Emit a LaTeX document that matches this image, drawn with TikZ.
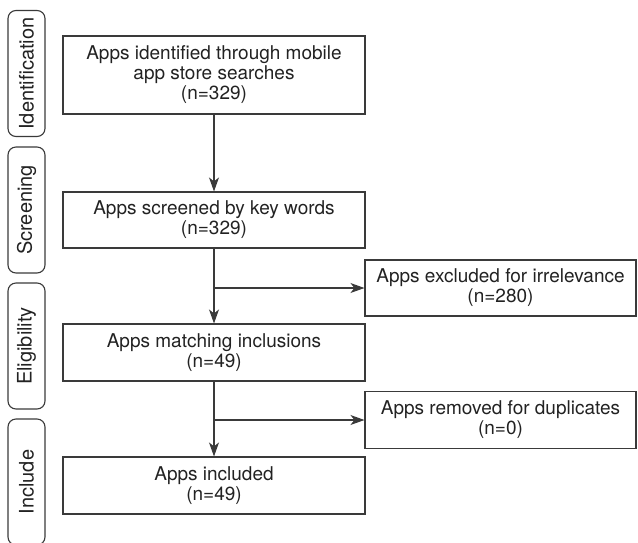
\documentclass[tikz,border=0pt]{standalone}
\usepackage{fontspec}
\setmainfont{TeX Gyre Heros}
\usepackage{tikz}
\usetikzlibrary{arrows.meta,calc}

\definecolor{linegray}{HTML}{3A3A3A}
\definecolor{textgray}{HTML}{222222}

\tikzset{
  flowbox/.style={draw=linegray, line width=1.1pt, rectangle, align=center,
    text=textgray, font=\fontsize{19}{20}\selectfont, inner sep=2pt},
  mainbox/.style={flowbox, minimum width=302pt},
  sidebox/.style={flowbox, minimum width=271pt},
  phase/.style={draw=linegray, line width=1.1pt, rounded corners=8pt, rotate=90,
    minimum width=126pt, minimum height=37pt, text=textgray,
    font=\fontsize{20}{22}\selectfont, inner sep=0pt},
  flow/.style={draw=linegray, line width=1.1pt, -{Stealth[length=14pt,width=10pt,inset=4pt]}}
}

\begin{document}
\begin{tikzpicture}[x=1pt,y=-1pt]
\useasboundingbox (0,0) rectangle (638,542);

% phases on the left
\node[phase] (ident) at (26.5,73.5) {Identification};
\node[phase] (screen) at (26.5,210) {Screening};
\node[phase] (elig) at (26.5,346) {Eligibility};
\node[phase] (incl) at (26.5,482) {Include};

% main column
\node[mainbox, minimum height=78pt] (found) at (214,75) {Apps identified through mobile\\app store searches\\(n=329)};
\node[mainbox, minimum height=56pt] (keyw) at (214,220) {Apps screened by key words\\(n=329)};
\node[mainbox, minimum height=57pt] (match) at (214,352.5) {Apps matching inclusions\\(n=49)};
\node[mainbox, minimum height=57pt] (final) at (214,485.5) {Apps included\\(n=49)};

% removed on the right
\node[sidebox, minimum height=56pt] (irrel) at (500.5,288) {Apps excluded for irrelevance\\(n=280)};
\node[sidebox, minimum height=57pt] (dupl) at (500.5,420) {Apps removed for duplicates\\(n=0)};

% arrows
\draw[flow] (found) -- (keyw);
\draw[flow] (keyw) -- (match);
\draw[flow] (match) -- (final);
\draw[flow] (keyw.south |- irrel.west) -- (irrel.west);
\draw[flow] (match.south |- dupl.west) -- (dupl.west);

\end{tikzpicture}
\end{document}
